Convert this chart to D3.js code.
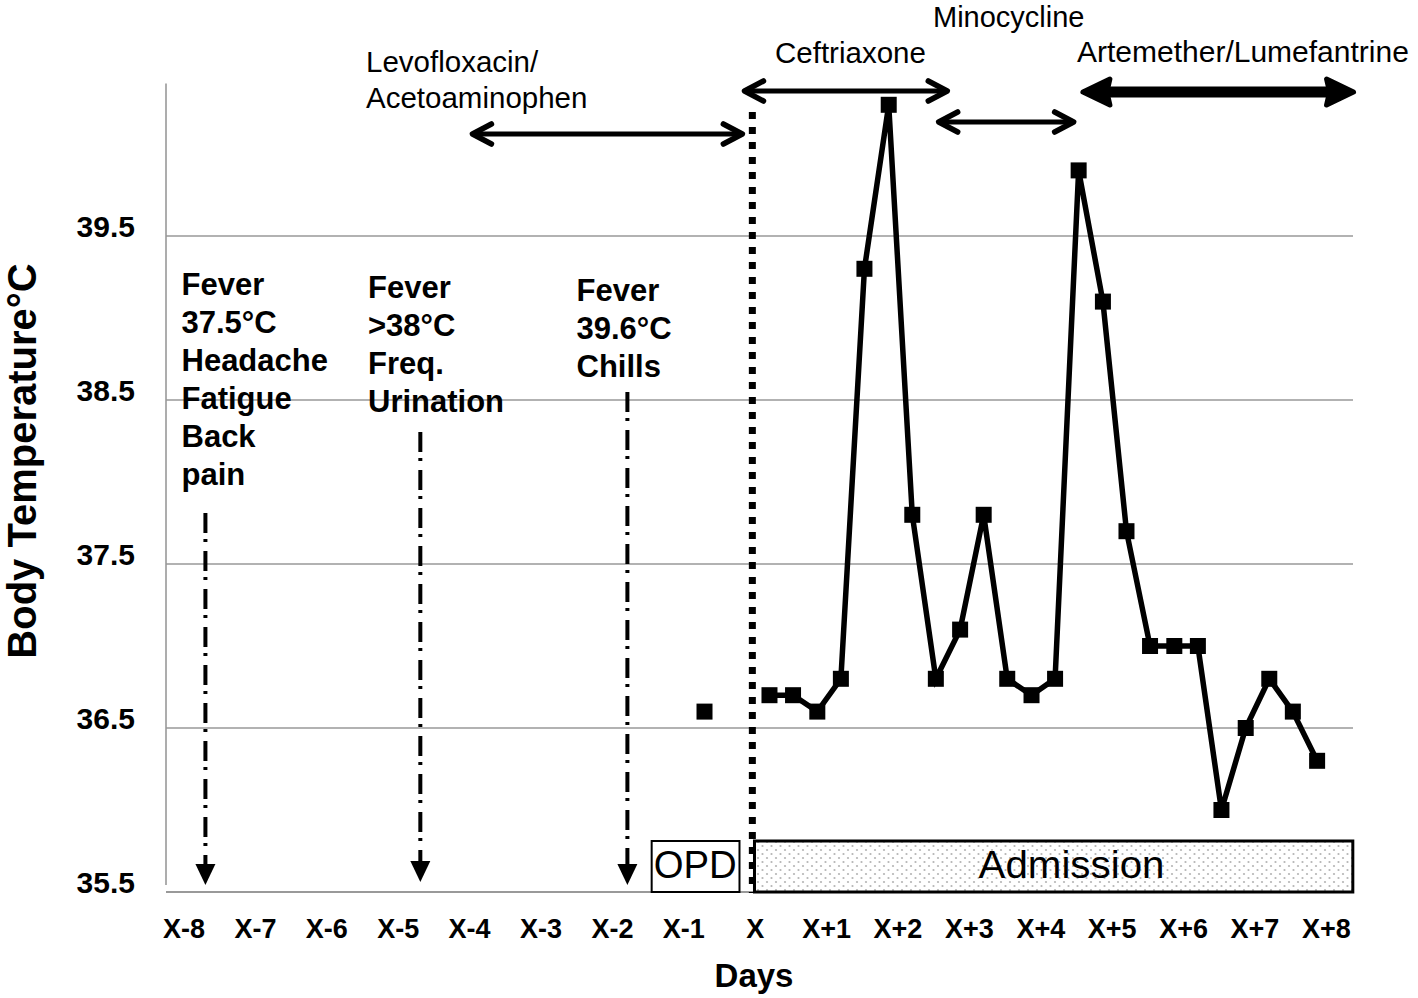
<!DOCTYPE html>
<html><head><meta charset="utf-8">
<script src="https://cdn.jsdelivr.net/npm/d3@7/dist/d3.min.js"></script>
<style>body{margin:0;background:#fff}svg{display:block}</style>
</head><body><svg id="c" width="1418" height="998"></svg>
<script>
// ---- data ----
const dayTicks = [-8,-7,-6,-5,-4,-3,-2,-1,0,1,2,3,4,5,6,7,8];
const dayLabels = ["X-8","X-7","X-6","X-5","X-4","X-3","X-2","X-1","X","X+1","X+2","X+3","X+4","X+5","X+6","X+7","X+8"];
const yTicks = [35.5, 36.5, 37.5, 38.5, 39.5];
const yTickLabels = ["35.5","36.5","37.5","38.5","39.5"];
// admission temperature readings (time in days from X)
const times = [0.20,0.53,0.87,1.20,1.53,1.87,2.20,2.53,2.87,3.20,3.53,3.87,4.20,4.53,4.87,5.20,5.53,5.87,6.20,6.53,6.87,7.20,7.53,7.87];
const temps = [36.7,36.7,36.6,36.8,39.3,40.3,37.8,36.8,37.1,37.8,36.8,36.7,36.8,39.9,39.1,37.7,37.0,37.0,37.0,36.0,36.5,36.8,36.6,36.3];
// outpatient reading
const opdTimes = [-0.71];
const opdTemps = [36.6];
// drugs
const drugNames = [["Levofloxacin/","Acetoaminophen"],["Ceftriaxone"],["Minocycline"],["Artemether/Lumefantrine"]];
const drugStart = [-3.96, -0.15, 2.57, 4.59];
const drugEnd = [-0.18, 2.69, 4.46, 8.38];
// symptoms
const symptomLines = [["Fever","37.5°C","Headache","Fatigue","Back","pain"],["Fever",">38°C","Freq.","Urination"],["Fever","39.6°C","Chills"]];
const symptomDay = [-7.70, -4.69, -1.79];
// periods
const periodNames = ["OPD","Admission"];
const periodStart = [-1.45, -0.01];
const periodEnd = [-0.22, 8.37];
const periodLabelDay = [-0.84, 4.43];

// ---- layout ----
const svg = d3.select("#c");
const x = d3.scaleLinear().domain([-8, 8]).range([184, 1326.4]);
const y = d3.scaleLinear().domain([35.5, 36.5]).range([892, 728]);
const plotLeft = 166, plotRight = 1353;
const yAxisTop = 40.43;
const FONT = "Liberation Sans, Arial, sans-serif";

const defs = svg.append("defs");
const pat = defs.append("pattern").attr("id","dots").attr("patternUnits","userSpaceOnUse")
  .attr("width",9).attr("height",8);
pat.append("rect").attr("width",9).attr("height",8).attr("fill","#fff");
pat.append("circle").attr("cx",2).attr("cy",2).attr("r",1.1).attr("fill","#b5b5b5");
pat.append("circle").attr("cx",6.5).attr("cy",6).attr("r",1.1).attr("fill","#b5b5b5");

// gridlines
svg.append("g").selectAll("line").data(yTicks).join("line")
  .attr("x1", plotLeft).attr("x2", plotRight)
  .attr("y1", d => y(d)).attr("y2", d => y(d))
  .attr("stroke", "#999").attr("stroke-width", d => d === 35.5 ? 2 : 1.6);
// y axis line
svg.append("line").attr("x1", plotLeft).attr("x2", plotLeft)
  .attr("y1", y(yAxisTop)).attr("y2", y(35.5) - 7)
  .attr("stroke", "#999").attr("stroke-width", 1.6);

// y tick labels
svg.append("g").selectAll("text").data(yTicks).join("text")
  .attr("x", 135).attr("y", d => y(d) + 1)
  .attr("text-anchor", "end")
  .attr("font-family", FONT)
  .attr("font-weight", "bold").attr("font-size", 30)
  .text((d, i) => yTickLabels[i]);

// x tick labels
svg.append("g").selectAll("text").data(dayTicks).join("text")
  .attr("x", d => x(d)).attr("y", 938)
  .attr("text-anchor", "middle")
  .attr("font-family", FONT)
  .attr("font-weight", "bold").attr("font-size", 27)
  .text((d, i) => dayLabels[i]);

// axis titles
svg.append("text").attr("x", 754).attr("y", 987).attr("text-anchor","middle")
  .attr("font-family", FONT)
  .attr("font-weight","bold").attr("font-size",33).text("Days");
svg.append("text").attr("transform","translate(36,461) rotate(-90)").attr("text-anchor","middle")
  .attr("font-family", FONT)
  .attr("font-weight","bold").attr("font-size",40).text("Body Temperature°C");

// period boxes
const periodG = svg.append("g");
periodNames.forEach((n, i) => {
  const x0 = x(periodStart[i]), x1 = x(periodEnd[i]);
  periodG.append("rect").attr("x", x0).attr("y", 841).attr("width", x1 - x0).attr("height", 51)
    .attr("fill", i === 1 ? "url(#dots)" : "#fff").attr("stroke", "#000").attr("stroke-width", i === 1 ? 3 : 2);
  periodG.append("text").attr("x", x(periodLabelDay[i])).attr("y", 878).attr("text-anchor","middle")
    .attr("font-family", FONT).attr("font-weight", 300)
    .attr("font-size", 39).attr("textLength", i === 0 ? 83 : 186).attr("lengthAdjust","spacingAndGlyphs")
    .text(n);
});

// dotted admission line at X
svg.append("line").attr("x1", x(-0.04)).attr("x2", x(-0.04)).attr("y1", 112).attr("y2", 893)
  .attr("stroke","#000").attr("stroke-width",7).attr("stroke-dasharray","7 8");

// symptom annotations
const symFirstBase = [295, 298, 301];
const symTextX = [181.5, 368, 576.5];
const symArrowTop = [513, 432, 392];
const symArrowTip = [885, 882, 885];
symptomLines.forEach((lines, i) => {
  const t = svg.append("text").attr("font-family", FONT)
    .attr("font-weight","bold").attr("font-size",31);
  lines.forEach((l, j) => t.append("tspan").attr("x", symTextX[i]).attr("y", symFirstBase[i] + 38 * j).text(l));
  const ax = x(symptomDay[i]);
  svg.append("line").attr("x1", ax).attr("x2", ax).attr("y1", symArrowTop[i]).attr("y2", symArrowTip[i] - 18)
    .attr("stroke","#000").attr("stroke-width",4).attr("stroke-dasharray","20 6 3 9");
  svg.append("path").attr("d", `M${ax - 10},${symArrowTip[i] - 21} L${ax + 10},${symArrowTip[i] - 21} L${ax},${symArrowTip[i]} Z`)
    .attr("fill","#000");
});

// drug arrows
const drugY = [134, 91, 122, 92];
const drugW = [5, 5, 5, 11];
const drugTextX = [366, 775, 933, 1077];
const drugTextY = [72, 63, 27, 62];
const drugFont = [29.5, 29.5, 29, 30];
drugNames.forEach((lines, i) => {
  const x0 = x(drugStart[i]), x1 = x(drugEnd[i]), yy = drugY[i], w = drugW[i];
  const t = svg.append("text").attr("font-family", FONT).attr("font-size", drugFont[i]);
  lines.forEach((l, j) => t.append("tspan").attr("x", drugTextX[i]).attr("y", drugTextY[i] + 36 * j).text(l));
  if (w > 6) {
    svg.append("line").attr("x1", x0 + 20).attr("x2", x1 - 20).attr("y1", yy).attr("y2", yy)
      .attr("stroke","#000").attr("stroke-width", w);
    const h = 13, L = 27;
    svg.append("path").attr("d", `M${x0},${yy} L${x0 + L},${yy - h} L${x0 + L - 3},${yy} L${x0 + L},${yy + h} Z`)
      .attr("fill","#000").attr("stroke","#000").attr("stroke-width",5).attr("stroke-linejoin","round");
    svg.append("path").attr("d", `M${x1},${yy} L${x1 - L},${yy - h} L${x1 - L + 3},${yy} L${x1 - L},${yy + h} Z`)
      .attr("fill","#000").attr("stroke","#000").attr("stroke-width",5).attr("stroke-linejoin","round");
  } else {
    svg.append("line").attr("x1", x0 + 1).attr("x2", x1 - 1).attr("y1", yy).attr("y2", yy)
      .attr("stroke","#000").attr("stroke-width", w);
    const ah = 10, al = 19;
    svg.append("path").attr("d", `M${x0 + al},${yy - ah} L${x0},${yy} L${x0 + al},${yy + ah}`)
      .attr("fill","none").attr("stroke","#000").attr("stroke-width", w + 0.5)
      .attr("stroke-linejoin","round").attr("stroke-linecap","round");
    svg.append("path").attr("d", `M${x1 - al},${yy - ah} L${x1},${yy} L${x1 - al},${yy + ah}`)
      .attr("fill","none").attr("stroke","#000").attr("stroke-width", w + 0.5)
      .attr("stroke-linejoin","round").attr("stroke-linecap","round");
  }
});

// temperature line
const pts = times.map((t, i) => [t, temps[i]]);
svg.append("path").datum(pts)
  .attr("d", d3.line().x(d => x(d[0])).y(d => y(d[1])))
  .attr("fill","none").attr("stroke","#000").attr("stroke-width",5.5);
const m = 16;
svg.append("g").selectAll("rect").data(pts).join("rect")
  .attr("x", d => x(d[0]) - m / 2).attr("y", d => y(d[1]) - m / 2)
  .attr("width", m).attr("height", m).attr("fill","#000");
svg.append("g").selectAll("rect").data(opdTimes.map((t, i) => [t, opdTemps[i]])).join("rect")
  .attr("x", d => x(d[0]) - m / 2).attr("y", d => y(d[1]) - m / 2)
  .attr("width", m).attr("height", m).attr("fill","#000");
</script></body></html>
